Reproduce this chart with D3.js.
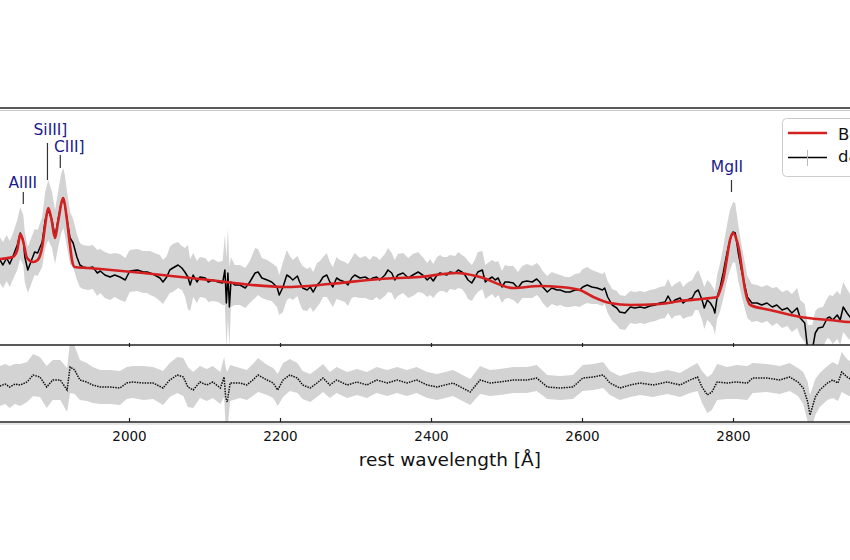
<!DOCTYPE html>
<html>
<head>
<meta charset="utf-8">
<script src="https://cdn.jsdelivr.net/npm/d3@7"></script>
<style>
  html, body { margin: 0; padding: 0; background: #fff; overflow: hidden; }
  svg { display: block; font-family: "DejaVu Sans", sans-serif; }
</style>
</head>
<body>
<svg id="chart" width="850" height="560"></svg>
<script>
// ---------------- data ----------------
const wave = [
  1829,1833,1838,1842,1846,1852,1856,1860,1862,1866,
  1871,1875,1879,1885,1889,1893,1898,1902,1906,1910,
  1913,1915,1918,1922,1926,1931,1935,1939,1946,1952,
  1958,1962,1968,1975,1981,1988,1995,2001,2011,2019,
  2024,2028,2034,2041,2045,2050,2054,2058,2065,2070,
  2074,2078,2081,2085,2090,2094,2101,2105,2111,2118,
  2124,2127,2129,2131,2133,2135,2140,2147,2154,2160,
  2167,2171,2176,2183,2189,2196,2199,2204,2209,2213,
  2217,2223,2226,2230,2236,2240,2244,2249,2253,2257,
  2262,2266,2270,2275,2279,2286,2290,2295,2299,2306,
  2313,2319,2323,2328,2332,2339,2343,2348,2352,2356,
  2363,2370,2376,2383,2389,2395,2399,2403,2408,2412,
  2416,2421,2425,2432,2436,2441,2445,2449,2454,2458,
  2462,2468,2472,2475,2481,2485,2489,2494,2498,2502,
  2509,2515,2521,2527,2534,2540,2544,2548,2554,2560,
  2567,2571,2578,2584,2591,2597,2601,2607,2613,2620,
  2627,2630,2634,2640,2646,2650,2657,2664,2670,2677,
  2683,2690,2697,2703,2710,2714,2719,2723,2730,2734,
  2739,2746,2750,2754,2759,2762,2766,2770,2774,2776,
  2779,2783,2787,2792,2796,2800,2803,2807,2812,2819,
  2825,2832,2838,2845,2852,2858,2865,2872,2878,2885,
  2889,2895,2899,2905,2909,2913,2919,2925,2928,2932,
  2938,2942,2946,2951,2955,2962,2968
];
const flux = [
  8.5,8.0,8.7,8.1,8.8,10.0,11.2,10.5,8.8,7.5,
  8.5,9.3,9.2,10.3,12.5,13.5,12.5,10.8,12.5,14.1,
  14.7,14.0,12.5,10.7,10.2,8.8,8.0,7.8,7.7,7.8,
  7.2,7.4,7.0,6.8,7.0,6.8,6.5,7.4,7.5,7.3,
  7.3,7.2,7.0,6.7,6.3,6.8,7.5,7.7,8.0,7.7,
  7.3,6.8,6.0,7.0,6.3,6.8,6.7,6.3,6.5,6.3,
  6.2,7.5,4.2,7.2,3.8,6.3,6.0,6.0,5.7,6.3,
  7.2,7.3,6.7,6.5,6.3,5.8,5.0,5.8,7.0,6.8,
  6.5,6.9,6.3,5.7,5.5,5.8,5.3,6.0,6.3,6.8,
  7.0,6.3,5.8,6.7,6.5,6.3,6.0,6.7,7.0,6.7,
  6.8,6.5,6.7,6.8,6.5,7.0,7.5,7.2,6.5,7.0,
  7.2,6.7,7.0,7.3,7.0,6.5,6.8,6.4,7.0,7.2,
  7.1,7.0,7.3,7.2,7.5,7.3,7.0,6.5,6.2,6.7,
  7.3,7.5,6.3,6.5,6.8,6.5,6.7,5.8,6.3,6.3,
  6.2,5.7,6.3,6.4,6.3,6.6,6.3,5.8,5.3,5.7,
  5.5,5.5,5.3,5.3,5.5,5.5,5.8,6.0,5.8,5.7,
  5.5,5.7,4.8,4.0,3.7,3.3,3.2,3.8,3.7,3.8,
  3.7,3.9,4.0,4.2,4.3,4.9,4.2,4.5,4.7,4.2,
  4.5,4.7,5.3,5.5,4.5,3.7,4.5,4.2,3.7,3.2,
  4.8,5.8,7.2,9.2,10.5,11.3,11.2,9.2,7.2,4.8,
  4.2,4.2,4.0,4.2,3.8,4.0,3.5,3.7,3.2,3.7,
  2.7,2.2,-0.5,-0.5,1.2,1.7,1.8,2.7,2.8,2.5,
  3.0,2.5,3.8,3.2,2.8,2.7,2.5
];
const fluxErr = [
  2.3,2.3,2.3,2.3,2.3,2.5,2.6,2.5,2.5,2.3,
  2.3,2.3,2.3,2.5,2.8,3.0,2.8,2.7,2.8,3.0,
  3.0,3.0,2.8,2.6,2.4,2.3,2.2,2.2,2.2,2.2,
  2.3,2.2,2.3,2.3,2.2,2.3,2.2,2.1,2.1,2.1,
  2.1,2.2,2.2,2.3,2.2,2.1,2.3,2.4,2.3,2.2,
  2.4,3.2,2.6,2.2,2.1,2.0,2.0,2.0,2.1,2.0,
  2.2,3.5,4.5,4.5,4.0,2.5,2.0,2.0,2.0,2.1,
  2.5,2.3,2.0,2.0,1.9,2.0,2.0,2.5,2.5,2.1,
  2.0,2.0,2.1,2.2,2.1,2.0,2.0,2.2,2.1,2.0,
  2.2,2.0,2.0,2.1,2.0,2.0,2.1,2.0,2.2,2.0,
  2.1,2.0,2.2,2.0,2.0,2.1,2.2,2.0,2.0,2.1,
  2.0,2.0,2.1,2.0,1.8,1.7,1.8,1.7,1.8,1.8,
  1.7,1.8,1.7,1.7,1.8,1.7,1.8,1.9,1.8,1.8,
  2.0,1.9,1.7,1.7,1.7,1.8,1.7,1.6,1.7,1.6,
  1.7,1.6,1.6,1.7,1.6,1.6,1.6,1.6,1.6,1.6,
  1.6,1.5,1.5,1.5,1.6,1.7,1.8,1.8,1.7,1.6,
  1.6,1.6,1.6,1.6,1.7,1.7,1.7,1.6,1.6,1.6,
  1.6,1.6,1.6,1.6,1.6,1.7,1.6,1.6,1.7,1.6,
  1.7,1.8,1.8,2.0,2.0,2.1,2.0,2.0,2.0,2.2,
  2.2,2.4,2.6,2.8,3.0,3.0,3.0,2.8,2.5,2.1,
  1.9,1.8,1.8,1.8,1.9,1.8,1.8,1.8,1.9,2.0,
  1.8,1.9,2.5,2.5,2.2,2.0,2.0,2.0,2.2,2.4,
  2.4,2.5,2.5,2.4,2.3,2.3,2.3
];

const modelWave = [
  1829,1846,1852,1856,1860,1865,1873,1879,1885,1889,
  1893,1897,1902,1906,1913,1917,1921,1925,1928,1946,
  1962,2019,2094,2207,2266,2332,2385,2434,2465,2509,
  2544,2571,2597,2615,2637,2664,2703,2730,2770,2779,
  2783,2787,2792,2796,2800,2804,2808,2812,2816,2823,
  2849,2889,2928,2955,2968
];
const modelFlux = [
  8.6,8.8,9.5,11.1,10.3,8.7,8.3,8.5,9.8,12.0,
  13.7,12.7,10.7,12.3,14.7,13.0,10.5,8.3,7.8,7.7,
  7.6,7.2,6.6,5.8,6.1,6.6,6.8,7.2,6.8,5.7,
  5.9,5.8,5.5,4.8,4.2,4.0,4.1,4.4,4.7,4.8,
  5.5,6.5,8.7,10.5,11.2,10.7,9.5,7.5,5.5,4.0,
  3.5,2.8,2.5,2.3,2.3
];

const residWave = [
  1829,1836,1842,1849,1856,1865,1873,1882,1891,1899,
  1909,1918,1922,1928,1935,1944,1952,1962,1975,1988,
  1997,2005,2019,2032,2045,2054,2064,2072,2078,2085,
  2094,2103,2111,2121,2126,2128,2130,2134,2147,2156,
  2164,2171,2183,2191,2197,2204,2213,2223,2230,2240,
  2249,2257,2266,2275,2289,2302,2315,2328,2342,2355,
  2368,2381,2395,2408,2429,2452,2465,2478,2491,2509,
  2527,2540,2554,2571,2588,2601,2615,2628,2637,2650,
  2664,2677,2694,2713,2730,2743,2753,2759,2766,2772,
  2779,2792,2805,2819,2826,2845,2862,2875,2886,2893,
  2899,2902,2909,2915,2925,2932,2939,2944,2951,2958,2968
];
const resid = [
  -0.3,-0.1,-0.4,-0.1,-0.2,0.1,0.8,0.6,-0.4,0.3,
  0.3,-0.7,1.6,1.3,0.3,0.1,-0.2,-0.4,-0.4,-0.5,
  0.0,0.1,0.0,0.0,-0.5,0.3,0.8,0.6,-0.4,-0.7,
  0.1,-0.2,0.1,-0.5,0.6,-1.4,-1.9,0.0,0.0,-0.2,
  0.3,0.8,0.3,0.0,-0.7,0.3,0.8,0.5,-0.2,-0.5,
  0.0,0.5,-0.2,0.3,-0.2,0.1,-0.2,0.3,0.0,0.3,
  0.0,0.3,-0.2,-0.4,0.0,-0.9,0.3,0.0,0.1,0.3,
  0.3,0.5,-0.4,-0.5,-0.4,0.5,0.6,0.8,0.0,-0.5,
  -0.2,0.0,-0.2,0.1,-0.2,0.3,0.6,-0.4,-1.2,-0.9,
  0.1,0.0,0.1,0.0,0.5,0.5,0.3,0.6,0.1,-0.5,
  -1.9,-3.2,-1.4,-0.7,0.0,0.3,0.0,1.1,0.6,0.3,0.1
];
const residErr = [
  2.0,2.0,2.1,2.0,2.1,2.0,2.1,2.0,2.1,2.0,
  2.0,2.2,2.6,2.4,2.0,1.9,1.8,1.7,1.7,1.7,
  1.6,1.6,1.7,1.6,1.7,1.7,1.8,1.9,2.0,1.8,
  1.6,1.6,1.6,1.6,2.0,3.0,3.0,1.8,1.5,1.5,
  1.6,1.7,1.5,1.5,1.6,1.7,1.6,1.5,1.4,1.4,
  1.4,1.4,1.3,1.3,1.3,1.3,1.3,1.3,1.3,1.3,
  1.3,1.3,1.3,1.3,1.3,1.3,1.4,1.3,1.3,1.3,
  1.3,1.3,1.2,1.2,1.2,1.3,1.3,1.3,1.2,1.2,
  1.2,1.2,1.2,1.2,1.2,1.3,1.4,1.6,1.8,1.8,
  1.8,1.6,1.7,1.7,1.5,1.4,1.4,1.4,1.4,1.6,
  2.0,2.0,1.8,1.7,1.7,1.8,1.8,2.0,1.8,1.7,1.7
];

const xTicks = [2000, 2200, 2400, 2600, 2800];
const lineNames = ["AlIII", "SiIII]", "CIII]", "MgII"];
const lineWaves = [1860, 1892, 1909, 2798];
const legendLabels = ["Best fit", "data"];
const xLabel = "rest wavelength [Å]";

// ---------------- layout ----------------
const L = { left: -22, right: 922, topT: 108, topB: 345, resT: 345, resB: 422 };
// label layout: text dx, text baseline, tick top, tick bottom
const labelLayout = [
  { dx: -0.5, base: 188, t0: 192, t1: 204 },
  { dx: 3,    base: 135, t0: 143, t1: 180 },
  { dx: 9,    base: 152, t0: 155, t1: 168 },
  { dx: -4.5, base: 172, t0: 180, t1: 192 }
];

const svg = d3.select("#chart");
svg.append("rect").attr("width", 850).attr("height", 560).attr("fill", "#fff");

const x = d3.scaleLinear().domain([1800, 3050]).range([L.left, L.left + 1250 * 0.755]);
const y = d3.scaleLinear().domain([0, 23.7]).range([L.topB, L.topT]);
const yr = d3.scaleLinear().domain([-3.9, 3.8]).range([L.resB, L.resT]);

const defs = svg.append("defs");
defs.append("clipPath").attr("id", "clipTop").append("rect")
  .attr("x", L.left).attr("y", L.topT).attr("width", L.right - L.left).attr("height", L.topB - L.topT);
defs.append("clipPath").attr("id", "clipRes").append("rect")
  .attr("x", L.left).attr("y", L.resT).attr("width", L.right - L.left).attr("height", L.resB - L.resT);

const data = wave.map((w, i) => ({ w, f: flux[i], e: fluxErr[i] }));
const model = modelWave.map((w, i) => ({ w, f: modelFlux[i] }));
const res = residWave.map((w, i) => ({ w, r: resid[i], e: residErr[i] }));

// ---- top panel ----
const gTop = svg.append("g").attr("clip-path", "url(#clipTop)");
gTop.append("path").datum(data)
  .attr("fill", "#d3d3d3")
  .attr("d", d3.area().x(d => x(d.w)).y0(d => y(d.f - d.e)).y1(d => y(d.f + d.e)));
gTop.append("path").datum(data)
  .attr("fill", "none").attr("stroke", "#000").attr("stroke-width", 1.5).attr("stroke-linejoin", "round")
  .attr("d", d3.line().x(d => x(d.w)).y(d => y(d.f)));
gTop.append("path").datum(model)
  .attr("fill", "none").attr("stroke", "#d42020").attr("stroke-width", 2.6).attr("stroke-linejoin", "round")
  .attr("d", d3.line().curve(d3.curveMonotoneX).x(d => x(d.w)).y(d => y(d.f)));

// ---- residual panel ----
const gRes = svg.append("g").attr("clip-path", "url(#clipRes)");
gRes.append("path").datum(res)
  .attr("fill", "#d3d3d3")
  .attr("d", d3.area().x(d => x(d.w)).y0(d => yr(d.r - d.e)).y1(d => yr(d.r + d.e)));
gRes.append("path").datum(res)
  .attr("fill", "none").attr("stroke", "#111").attr("stroke-width", 1.5).attr("stroke-dasharray", "1.5 1.1")
  .attr("d", d3.line().x(d => x(d.w)).y(d => yr(d.r)));

// ---- frames ----
const frame = svg.append("g").attr("fill", "none");
frame.append("line").attr("x1", L.left).attr("x2", L.right).attr("y1", L.topT).attr("y2", L.topT)
  .attr("stroke", "#222").attr("stroke-width", 1.4);
frame.append("line").attr("x1", L.left).attr("x2", L.right).attr("y1", L.topT + 2.5).attr("y2", L.topT + 2.5)
  .attr("stroke", "#c8c8c8").attr("stroke-width", 1);
frame.append("line").attr("x1", L.left).attr("x2", L.right).attr("y1", L.topB).attr("y2", L.topB)
  .attr("stroke", "#222").attr("stroke-width", 1.3);
frame.append("line").attr("x1", L.left).attr("x2", L.right).attr("y1", L.resB).attr("y2", L.resB)
  .attr("stroke", "#222").attr("stroke-width", 1.3);
frame.append("line").attr("x1", L.left).attr("x2", L.right).attr("y1", L.resB + 2).attr("y2", L.resB + 2)
  .attr("stroke", "#cfcfcf").attr("stroke-width", 1);

// ticks on the shared border
const axMid = d3.axisBottom(x).tickValues(xTicks).tickSize(4).tickFormat("");
svg.append("g").attr("transform", `translate(0,${L.topB - 2})`).call(axMid)
  .call(g => g.select(".domain").remove())
  .call(g => g.selectAll("line").attr("stroke", "#222").attr("stroke-width", 1.2));

// bottom axis with labels
const axBot = d3.axisBottom(x).tickValues(xTicks).tickSize(-4).tickPadding(14).tickFormat(d3.format("d"));
const gAx = svg.append("g").attr("transform", `translate(0,${L.resB})`).call(axBot);
gAx.select(".domain").remove();
gAx.selectAll("line").attr("stroke", "#222").attr("stroke-width", 1.2);
gAx.selectAll("text").attr("font-family", "DejaVu Sans, sans-serif").attr("font-size", 13.5)
  .attr("fill", "#111").attr("dy", 0).attr("y", 19);

svg.append("text").attr("x", x(2425)).attr("y", 466).attr("text-anchor", "middle")
  .attr("font-size", 18.5).attr("fill", "#111").text(xLabel);

// ---- line labels ----
const navy = "#1c1c8a";
lineNames.forEach((name, i) => {
  const lx = x(lineWaves[i]);
  const lay = labelLayout[i];
  svg.append("line").attr("x1", lx).attr("x2", lx).attr("y1", lay.t0).attr("y2", lay.t1)
    .attr("stroke", "#333").attr("stroke-width", 1.2);
  svg.append("text").attr("x", lx + lay.dx).attr("y", lay.base).attr("text-anchor", "middle")
    .attr("font-size", 15.5).attr("fill", navy).text(name);
});

// ---- legend ----
const lg = svg.append("g");
lg.append("rect").attr("x", 782.5).attr("y", 118.5).attr("width", 140).attr("height", 58).attr("rx", 4)
  .attr("fill", "#fff").attr("fill-opacity", 0.85).attr("stroke", "#cccccc").attr("stroke-width", 1);
lg.append("line").attr("x1", 788).attr("x2", 827).attr("y1", 133).attr("y2", 133)
  .attr("stroke", "#d42020").attr("stroke-width", 2.6);
lg.append("line").attr("x1", 788).attr("x2", 827).attr("y1", 157.5).attr("y2", 157.5)
  .attr("stroke", "#000").attr("stroke-width", 1.5);
lg.append("line").attr("x1", 807.5).attr("x2", 807.5).attr("y1", 150).attr("y2", 166)
  .attr("stroke", "#bbb").attr("stroke-width", 1);
lg.selectAll("text.leg").data(legendLabels).enter().append("text").attr("class", "leg")
  .attr("x", 838).attr("y", (d, i) => 139.5 + i * 22.5)
  .attr("font-size", 16.5).attr("fill", "#111").text(d => d);
</script>
</body>
</html>
